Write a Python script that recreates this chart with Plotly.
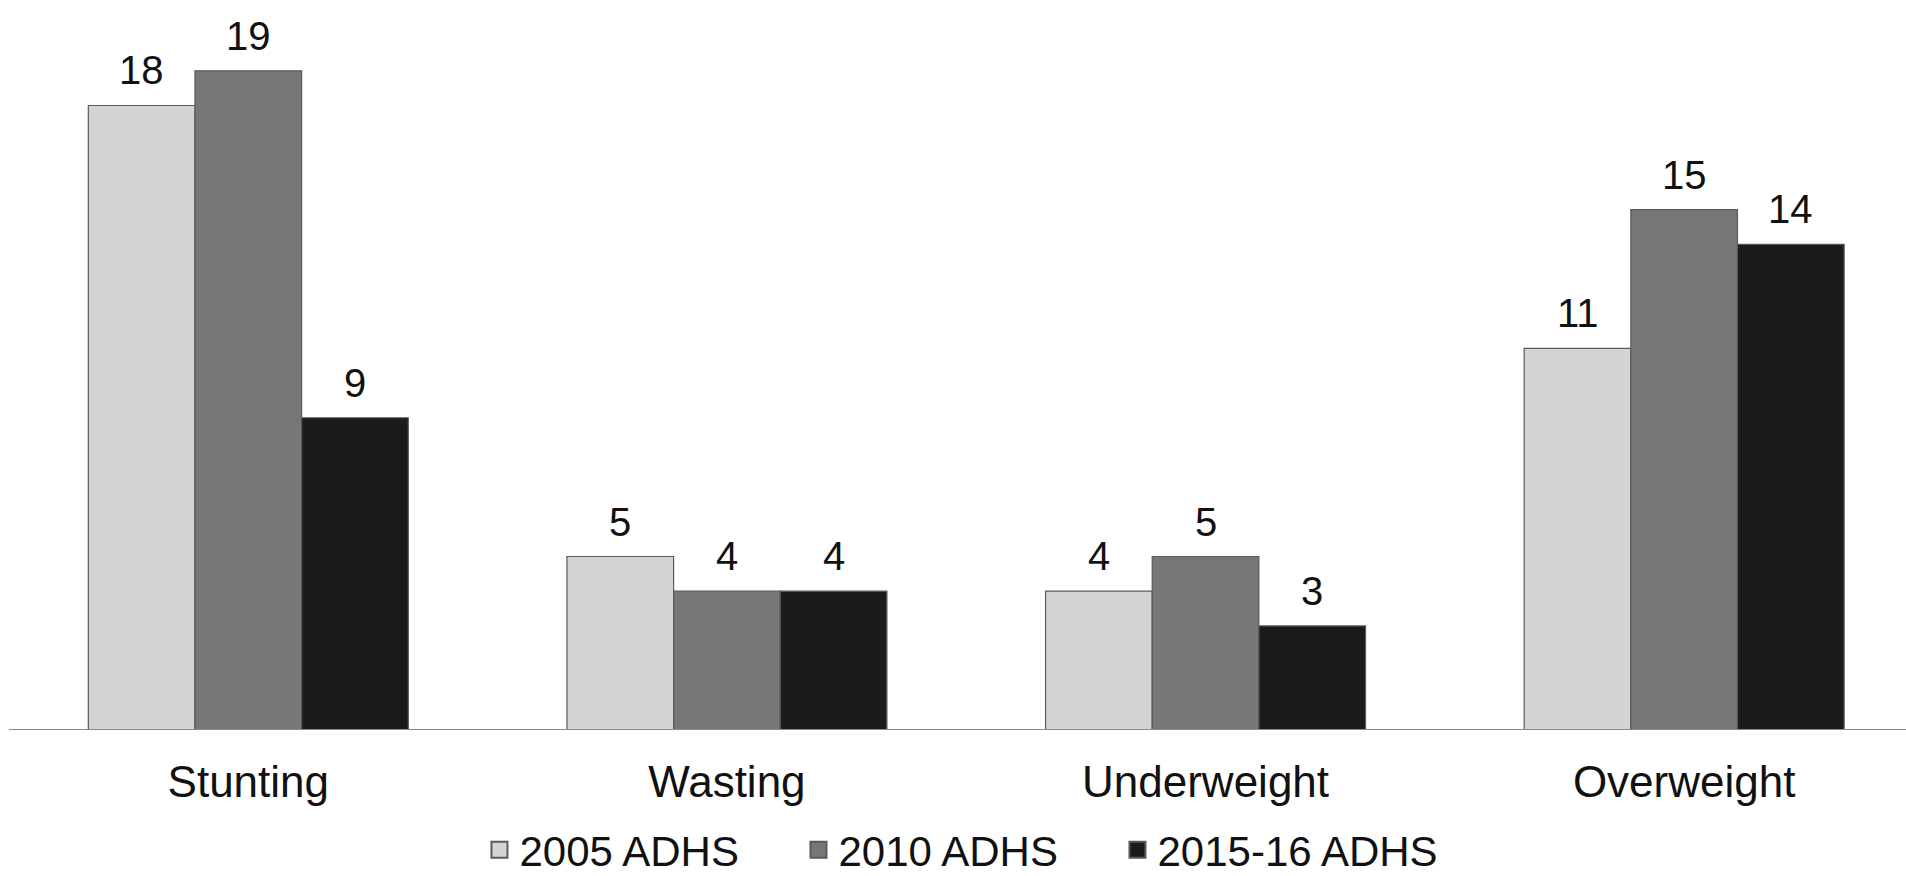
import plotly.graph_objects as go

# Nutritional status of children, by survey round (%)
categories = ["Stunting", "Wasting", "Underweight", "Overweight"]
series_names = ["2005 ADHS", "2010 ADHS", "2015-16 ADHS"]
values_2005 = [18, 5, 4, 11]
values_2010 = [19, 4, 5, 15]
values_2015 = [9, 4, 3, 14]

series_values = [values_2005, values_2010, values_2015]
fill_colors = ["#d4d4d4", "#777777", "#1b1b1b"]
OUTLINE = "#5a5a5a"

FONT = "Liberation Sans, Arial, sans-serif"
BARGAP = 0.3315

fig = go.Figure()
for name, vals, col in zip(series_names, series_values, fill_colors):
    fig.add_trace(go.Bar(
        name=name,
        x=list(range(len(categories))),
        y=vals,
        marker=dict(color=col, line=dict(color=OUTLINE, width=1.2)),
        hoverinfo="skip",
        showlegend=False,
    ))

# legend entries drawn as square swatches (larger than the default bar swatch)
for name, col in zip(series_names, fill_colors):
    fig.add_trace(go.Scatter(
        name=name, x=[None], y=[None], mode="markers",
        marker=dict(symbol="square", size=16, color=col,
                    line=dict(color=OUTLINE, width=2)),
        showlegend=True, hoverinfo="skip",
    ))

# value labels above each bar, placed at the bar centres within each group
bar_w = (1 - BARGAP) / len(series_values)
for j, vals in enumerate(series_values):
    for i, v in enumerate(vals):
        fig.add_annotation(
            x=i + (j - 1) * bar_w, y=v, text=str(v),
            showarrow=False, yanchor="bottom", yshift=11,
            font=dict(family=FONT, size=40, color="#111111"),
        )

fig.update_layout(
    width=1906, height=876,
    margin=dict(l=9, r=0, t=0, b=146, autoexpand=False),
    paper_bgcolor="white", plot_bgcolor="white",
    barmode="group", bargap=BARGAP, bargroupgap=0,
    font=dict(family=FONT, color="#111111"),
    showlegend=True,
    legend=dict(
        orientation="h", x=0.248, xanchor="left", y=-0.1644, yanchor="middle",
        font=dict(family=FONT, size=42, color="#111111"),
        entrywidth=274, entrywidthmode="pixels", itemsizing="trace",
        traceorder="normal", bgcolor="rgba(0,0,0,0)",
    ),
    xaxis=dict(
        range=[-0.5, 3.4635],
        tickmode="array", tickvals=list(range(len(categories))), ticktext=categories,
        showgrid=False, zeroline=False, showline=False, ticks="",
        tickfont=dict(family=FONT, size=44, color="#111111"),
        ticklabelstandoff=22,
    ),
    yaxis=dict(
        range=[0, 21.04], visible=False, showgrid=False, zeroline=False,
    ),
    shapes=[dict(
        type="line", xref="paper", yref="y", x0=0, x1=1, y0=0, y1=0,
        line=dict(color="#8a8a8a", width=2), layer="above",
    )],
)

fig.write_html("out.html")
